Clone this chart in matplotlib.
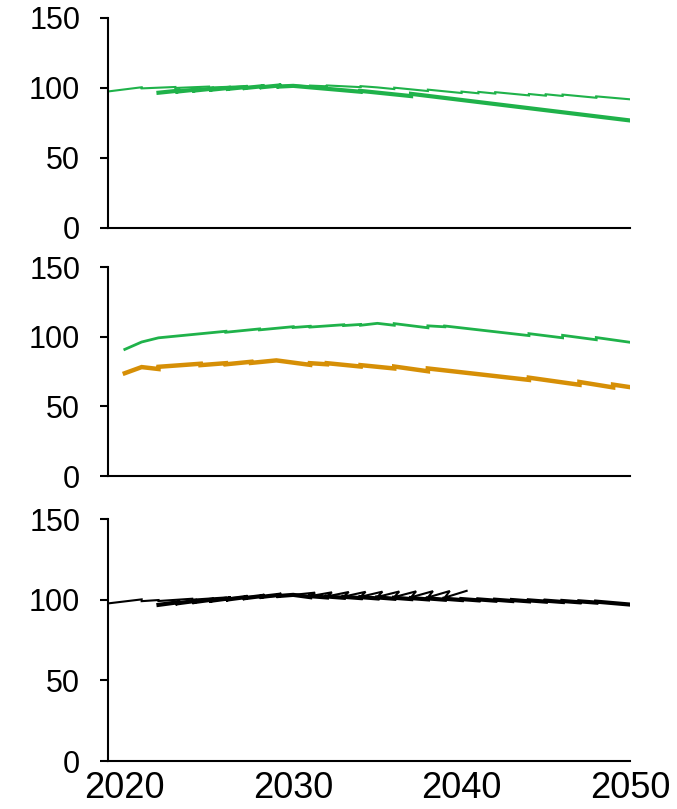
import matplotlib
matplotlib.use('Agg')
import matplotlib.pyplot as plt

plt.rcParams['font.family'] = ['Liberation Sans', 'DejaVu Sans']

GREEN = '#1fb24a'
ORANGE = '#d68f06'

years_ticks = [2020, 2030, 2040, 2050]
y_ticks = [0, 50, 100, 150]

# panel 1 - green, thin and thick
p1_thin_x = [2019, 2021, 2021, 2023, 2023, 2025, 2025, 2027, 2027, 2030, 2031, 2031,
             2032, 2032, 2034, 2034, 2035, 2036, 2036, 2038, 2038, 2040, 2040, 2041,
             2041, 2042, 2042, 2044, 2044, 2045, 2045, 2046, 2046, 2048, 2048, 2050]
p1_thin_y = [97.5, 100.5, 99.7, 100.7, 100.0, 101.0, 100.3, 101.2, 100.6, 101.8, 101.1, 101.7,
             101.2, 101.8, 100.6, 101.3, 100.4, 99.2, 100.2, 97.8, 98.8, 96.4, 97.4, 96.2,
             97.2, 96.0, 97.0, 94.7, 95.7, 94.5, 95.5, 94.3, 95.3, 93.0, 94.0, 91.9]
p1_thick_x = [2022, 2023.3, 2023, 2024.3, 2024, 2025.3, 2025, 2026.3, 2026, 2027.3, 2027,
              2028.3, 2028, 2029.3, 2029, 2030, 2034, 2034, 2037, 2037, 2050]
p1_thick_y = [96.6, 98.2, 97.3, 98.9, 98.0, 99.6, 98.6, 100.2, 99.2, 100.8, 99.8,
              101.4, 100.4, 101.9, 100.9, 101.5, 97.3, 97.9, 94.2, 95.8, 76.8]

# panel 2 - green thin, orange thick
p2_green_x = [2020, 2021, 2022, 2026, 2026, 2028, 2028, 2030, 2030, 2031, 2031, 2033, 2033,
              2034, 2034, 2035, 2036, 2036, 2038, 2038, 2039, 2039, 2044, 2044, 2046, 2046,
              2048, 2048, 2050]
p2_green_y = [90.9, 96.2, 99.2, 103.9, 103.2, 105.6, 104.9, 107.2, 106.6, 107.5, 106.9, 108.6, 108.0,
              108.8, 108.2, 109.6, 108.2, 109.4, 106.4, 107.8, 107.1, 107.7, 100.8, 102.2, 99.2, 101.0,
              97.8, 99.4, 96.0]
p2_orange_x = [2020, 2021, 2022, 2022, 2024.5, 2024.5, 2026, 2026, 2027.5, 2027.5, 2029, 2031,
               2031, 2032, 2032, 2034, 2034, 2036, 2036, 2038, 2038, 2044, 2044, 2047, 2047,
               2049, 2049, 2050]
p2_orange_y = [73.8, 78.2, 76.8, 78.4, 80.6, 79.6, 81.0, 80.2, 82.0, 81.2, 83.0, 79.8,
               81.0, 80.2, 81.0, 78.6, 79.6, 77.2, 78.6, 75.2, 77.2, 69.0, 70.6, 65.5, 67.5,
               63.6, 65.6, 63.8]

# panel 3 - black, thin and thick
p3_thin_x = [2019, 2021, 2021, 2022, 2022, 2024, 2024, 2026, 2026, 2028, 2028, 2030,
             2031.3, 2031, 2032.3, 2032, 2033.3, 2033, 2034.3, 2034, 2035.3, 2035,
             2036.3, 2036, 2037.3, 2037, 2038.3, 2038, 2039.3, 2039, 2040.3]
p3_thin_y = [97.7, 100.2, 99.1, 99.8, 99.2, 100.6, 100.0, 101.4, 100.8, 102.2, 101.6, 103.0,
             104.4, 102.2, 104.6, 102.0, 104.8, 101.9, 104.9, 101.8, 105.0, 101.7,
             105.1, 101.6, 105.2, 101.5, 105.3, 101.4, 105.4, 101.3, 105.5]
p3_thick_x = [2022, 2023.3, 2023, 2024.3, 2024, 2025.3, 2025, 2026.3, 2026, 2027.3, 2027,
              2028.3, 2028, 2029.3, 2029, 2030, 2031, 2031, 2032, 2032, 2033, 2033, 2034,
              2034, 2035, 2035, 2036, 2036, 2037, 2037, 2038, 2038, 2039, 2039, 2040, 2040,
              2041, 2041, 2042, 2042, 2043, 2043, 2044, 2044, 2045, 2045, 2046, 2046, 2047,
              2047, 2048, 2048, 2050]
p3_thick_y = [96.8, 98.6, 97.6, 99.4, 98.4, 100.2, 99.2, 101.0, 100.0, 101.8, 100.8,
              102.5, 101.6, 103.2, 102.2, 103.0, 101.6, 102.2, 101.4, 102.0, 101.2, 101.8, 101.0,
              101.6, 100.8, 101.4, 100.6, 101.2, 100.4, 101.0, 100.2, 100.8, 100.0, 100.6, 99.8, 100.4,
              99.6, 100.2, 99.4, 100.0, 99.2, 99.8, 99.0, 99.6, 98.8, 99.4, 98.6, 99.2, 98.4,
              99.0, 98.2, 98.8, 97.0]

fig = plt.figure(figsize=(6.77, 8.09), dpi=100)

left, width = 0.1595, 0.771
ax1 = fig.add_axes([left, 0.7182, width, 0.2596])
ax2 = fig.add_axes([left, 0.4116, width, 0.2583])
ax3 = fig.add_axes([left, 0.0593, width, 0.2991])

ax1.plot(p1_thin_x, p1_thin_y, color=GREEN, lw=1.5, solid_joinstyle='miter')
ax1.plot(p1_thick_x, p1_thick_y, color=GREEN, lw=3, solid_joinstyle='miter')

ax2.plot(p2_green_x, p2_green_y, color=GREEN, lw=2, solid_joinstyle='miter')
ax2.plot(p2_orange_x, p2_orange_y, color=ORANGE, lw=3.2, solid_joinstyle='miter')

ax3.plot(p3_thin_x, p3_thin_y, color='black', lw=1.5, solid_joinstyle='miter')
ax3.plot(p3_thick_x, p3_thick_y, color='black', lw=3, solid_joinstyle='miter')

for ax in [ax1, ax2, ax3]:
    ax.set_xlim(2019, 2050)
    ax.set_ylim(0, 150)
    ax.set_yticks(y_ticks)
    ax.set_xticks(years_ticks)
    ax.spines['top'].set_visible(False)
    ax.spines['right'].set_visible(False)
    ax.spines['left'].set_linewidth(1.5)
    ax.spines['bottom'].set_linewidth(1.5)
    ax.tick_params(axis='y', direction='out', length=6, width=1.5, labelsize=22, pad=14)
    ax.tick_params(axis='x', length=0, labelsize=26, pad=7)

ax1.tick_params(axis='x', labelbottom=False)
ax2.tick_params(axis='x', labelbottom=False)

plt.savefig('out.png', dpi=100)
